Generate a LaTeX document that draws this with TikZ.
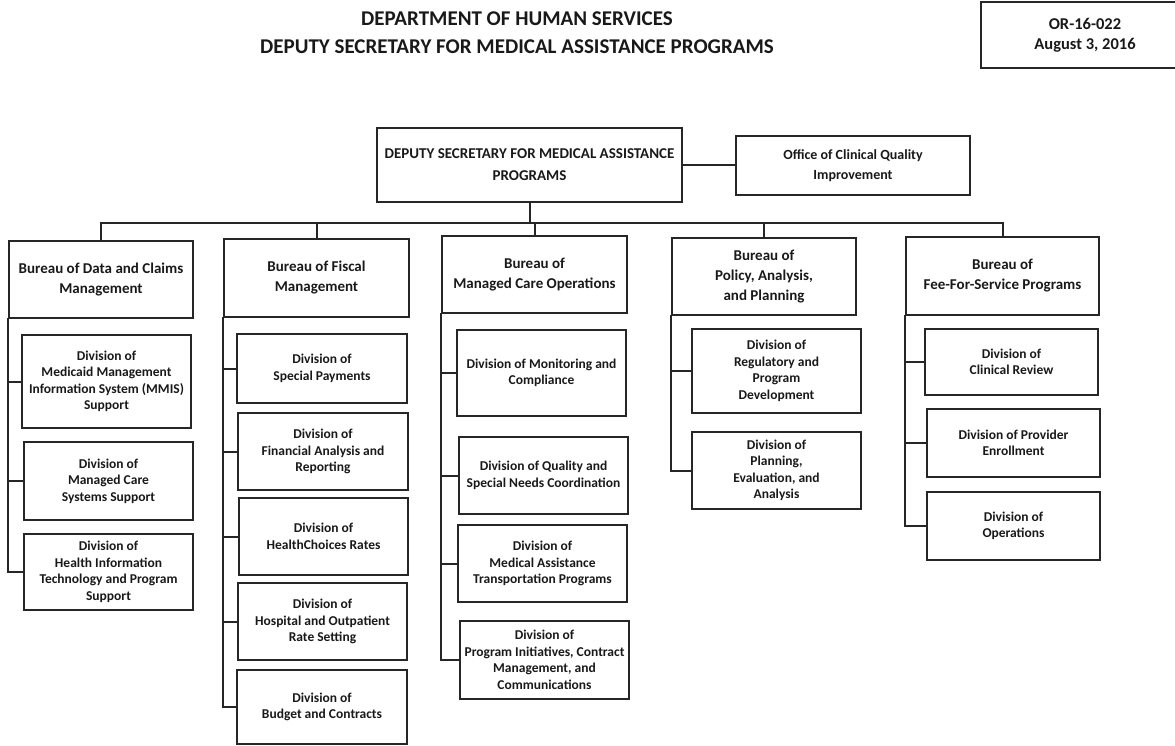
\documentclass[tikz,border=0pt]{standalone}
\usepackage{fontspec}
\setmainfont{Carlito}
\begin{document}
\begin{tikzpicture}[x=1pt,y=-1pt,
  ln/.style={line width=2pt, draw=black!85, line cap=rect, line join=miter},
  box/.style={ln, rectangle, align=center, inner sep=0pt, text=black!90},
  wh/.style 2 args={minimum width=#1pt, minimum height=#2pt},
  divbox/.style={box, font=\fontsize{13.5}{16.5}\selectfont\bfseries},
  burbox/.style={box, font=\fontsize{15}{20}\selectfont\bfseries},
]
\useasboundingbox (0,0) rectangle (1175,746);

% heading
\node[align=center, font=\fontsize{21}{28}\selectfont\bfseries, text=black!90] (title) at (517,33)
  {DEPARTMENT OF HUMAN SERVICES\\DEPUTY SECRETARY FOR MEDICAL ASSISTANCE PROGRAMS};
\node[box, wh={208}{66}, font=\fontsize{16.5}{20}\selectfont\bfseries] (stamp) at (1085,35)
  {OR-16-022\\August 3, 2016};

% top level
\node[box, wh={305}{74}, font=\fontsize{15}{22}\selectfont\bfseries] (dep) at (529.5,165)
  {DEPUTY SECRETARY FOR MEDICAL ASSISTANCE\\PROGRAMS};
\node[box, wh={234}{59}, font=\fontsize{14}{20}\selectfont\bfseries] (off) at (853,166)
  {Office of Clinical Quality\\Improvement};

% bureaus
\node[burbox, wh={184}{77}] (b1) at (101,279.5) {Bureau of Data and Claims\\Management};
\node[burbox, wh={185}{78}] (b2) at (316.5,278) {Bureau of Fiscal\\Management};
\node[burbox, wh={185}{77}] (b3) at (534.5,274.5) {Bureau of\\Managed Care Operations};
\node[burbox, wh={184}{77}] (b4) at (764,276.5) {Bureau of\\Policy, Analysis,\\and Planning};
\node[burbox, wh={193}{78}] (b5) at (1002.5,276) {Bureau of\\Fee-For-Service Programs};

% divisions: data and claims
\node[divbox, wh={169}{93}] (d11) at (106.5,381.5) {Division of\\Medicaid Management\\Information System (MMIS)\\Support};
\node[divbox, wh={169}{78}] (d12) at (108.5,481) {Division of\\Managed Care\\Systems Support};
\node[divbox, wh={169}{76}] (d13) at (108.5,572) {Division of\\Health Information\\Technology and Program\\Support};

% divisions: fiscal
\node[divbox, wh={170}{69}] (d21) at (322,368.5) {Division of\\Special Payments};
\node[divbox, wh={170}{77}] (d22) at (323,451.5) {Division of\\Financial Analysis and\\Reporting};
\node[divbox, wh={169}{77}] (d23) at (323.5,536.5) {Division of\\HealthChoices Rates};
\node[divbox, wh={169}{77}] (d24) at (322.5,621.5) {Division of\\Hospital and Outpatient\\Rate Setting};
\node[divbox, wh={170}{74}] (d25) at (322,707) {Division of\\Budget and Contracts};

% divisions: managed care
\node[divbox, wh={169}{86}] (d31) at (541.5,373) {Division of Monitoring and\\Compliance};
\node[divbox, wh={169}{77}] (d32) at (543.5,475.5) {Division of Quality and\\Special Needs Coordination};
\node[divbox, wh={169}{77}] (d33) at (542.5,563.5) {Division of\\Medical Assistance\\Transportation Programs};
\node[divbox, wh={169}{78}] (d34) at (544.5,660) {Division of\\Program Initiatives, Contract\\Management, and\\Communications};

% divisions: policy
\node[divbox, wh={169}{84}] (d41) at (776.5,371) {Division of\\Regulatory and\\Program\\Development};
\node[divbox, wh={169}{77}] (d42) at (776.5,470.5) {Division of\\Planning,\\Evaluation, and\\Analysis};

% divisions: fee-for-service
\node[divbox, wh={173}{66}] (d51) at (1011.5,362) {Division of\\Clinical Review};
\node[divbox, wh={173}{68}] (d52) at (1013.5,443) {Division of Provider\\Enrollment};
\node[divbox, wh={173}{68}] (d53) at (1013.5,526) {Division of\\Operations};

% connectors
\coordinate (bus) at (0,223);
\draw[ln] (dep.east) -- (dep.east -| off.west);
\draw[ln] (dep.south) -- (dep.south |- bus);
\draw[ln] (b1.north) -- (b1.north |- bus) -- (b5.north |- bus) -- (b5.north);
\foreach \b in {b2,b3,b4}
  \draw[ln] (\b.north) -- (\b.north |- bus);

\draw[ln] (b1.south west) -- (b1.south west |- d13.west) -- (d13.west);
\foreach \d in {d11,d12} \draw[ln] (b1.south west |- \d.west) -- (\d.west);

\draw[ln] (b2.south west) -- (b2.south west |- d25.west) -- (d25.west);
\foreach \d in {d21,d22,d23,d24} \draw[ln] (b2.south west |- \d.west) -- (\d.west);

\draw[ln] (b3.south west) -- (b3.south west |- d34.west) -- (d34.west);
\foreach \d in {d31,d32,d33} \draw[ln] (b3.south west |- \d.west) -- (\d.west);

\draw[ln] (b4.south west) -- (b4.south west |- d42.west) -- (d42.west);
\draw[ln] (b4.south west |- d41.west) -- (d41.west);

\draw[ln] (b5.south west) -- (b5.south west |- d53.west) -- (d53.west);
\foreach \d in {d51,d52} \draw[ln] (b5.south west |- \d.west) -- (\d.west);
\end{tikzpicture}
\end{document}
